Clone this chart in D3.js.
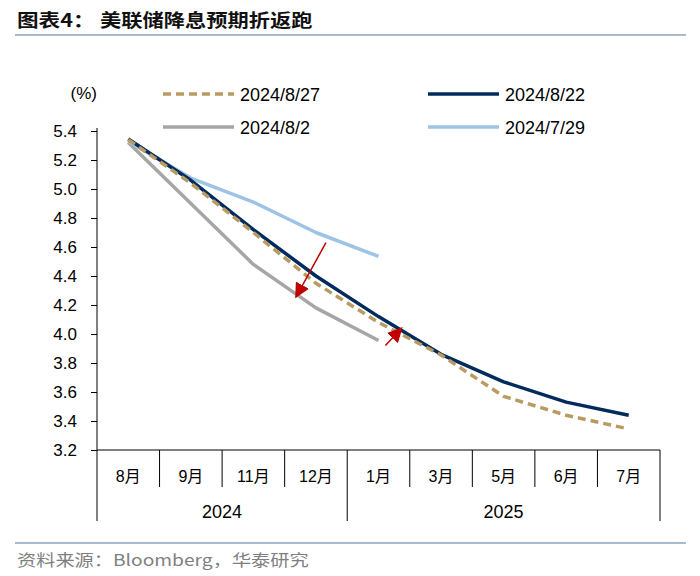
<!DOCTYPE html>
<html><head><meta charset="utf-8">
<script src="https://cdn.jsdelivr.net/npm/d3@7"></script>
<style>body{margin:0;background:#fff;} svg{display:block;font-family:"Liberation Sans",Arial,"Noto Sans CJK SC",sans-serif;}</style>
</head><body><svg id="c" width="700" height="576"></svg>
<script>
const months = ["8月","9月","11月","12月","1月","3月","5月","6月","7月"];
const years = [{label:"2024", from:0, to:4},{label:"2025", from:4, to:9}];
const s0827 = [5.34,5.04,4.70,4.35,4.08,3.855,3.57,3.44,3.345];
const s0822 = [5.345,5.06,4.72,4.40,4.12,3.86,3.67,3.53,3.44];
const s0802 = [5.32,4.90,4.48,4.18,3.955];
const s0729 = [5.33,5.075,4.91,4.70,4.535];
const yTicks = [3.2,3.4,3.6,3.8,4.0,4.2,4.4,4.6,4.8,5.0,5.2,5.4];
const arrows = [{x1:3.16,y1:4.63,x2:2.68,y2:4.255},{x1:4.11,y1:3.92,x2:4.37,y2:4.04}];

const svg = d3.select("#c");
const L=97, R=660, T=131, B=450;
const xi = d3.scaleLinear().domain([0,9]).range([L,R]);
const xc = i => xi(i+0.5);
const y = d3.scaleLinear().domain([3.2,5.4]).range([B,T]);
const stretch = (sel,k) => sel.each(function(){ const w=this.getComputedTextLength(); d3.select(this).attr("textLength",w*k).attr("lengthAdjust","spacingAndGlyphs"); });

// title
svg.append("text").attr("x",17).attr("y",27).attr("font-family","'Noto Sans CJK SC',sans-serif").attr("font-weight","bold").attr("font-size",18).attr("fill","#111").text("图表4：").call(stretch,1.2);
svg.append("text").attr("x",100).attr("y",27).attr("font-family","'Noto Sans CJK SC',sans-serif").attr("font-weight","bold").attr("font-size",18).attr("fill","#111").text("美联储降息预期折返跑").call(stretch,1.18);
svg.append("line").attr("x1",15).attr("x2",686).attr("y1",35).attr("y2",35).attr("stroke","#8BA3BC").attr("stroke-width",1.5);
svg.append("line").attr("x1",15).attr("x2",686).attr("y1",543).attr("y2",543).attr("stroke","#8BA3BC").attr("stroke-width",1.5);
svg.append("text").attr("x",17).attr("y",566).attr("font-family","'Noto Sans CJK SC',sans-serif").attr("font-size",16).attr("fill","#7f7f7f").text("资料来源：Bloomberg，华泰研究").call(stretch,1.2);

// y axis
const ya = d3.axisLeft(y).tickValues(yTicks).tickFormat(d3.format(".1f")).tickSize(6).tickSizeOuter(0);
const yg = svg.append("g").attr("transform",`translate(${L},0)`).call(ya);
yg.select(".domain").attr("stroke","#000").attr("d",`M0,${T-3}V${B}`);
yg.selectAll(".tick line").attr("stroke","#000");
yg.selectAll(".tick text").attr("font-size",17).attr("fill","#000").attr("font-family","'Liberation Sans',Arial,sans-serif").attr("x",-20);
svg.append("text").attr("x",97).attr("y",99).attr("text-anchor","end").attr("font-size",17).text("(%)");

// x table
svg.append("line").attr("x1",L).attr("x2",R).attr("y1",B).attr("y2",B).attr("stroke","#000");
const bounds = d3.range(10);
svg.selectAll(".vb").data(bounds).join("line")
  .attr("x1",d=>xi(d)).attr("x2",d=>xi(d)).attr("y1",B)
  .attr("y2",d=> (d===0||d===4||d===9)?521:487).attr("stroke","#000");
svg.selectAll(".ml").data(months).join("text")
  .attr("x",(d,i)=>xc(i)).attr("y",482).attr("text-anchor","middle").attr("font-size",16)
  .attr("font-family","'Liberation Sans','Noto Sans CJK SC',sans-serif").text(d=>d);
svg.selectAll(".yl").data(years).join("text")
  .attr("x",d=>xi((d.from+d.to)/2)).attr("y",518).attr("text-anchor","middle").attr("font-size",18).text(d=>d.label);

// lines
const line = d3.line().x((d,i)=>xc(i)).y(d=>y(d));
const series = [
  {data:s0802,color:"#A6A6A6",dash:null},
  {data:s0729,color:"#9DC3E6",dash:null},
  {data:s0822,color:"#002B5C",dash:null},
  {data:s0827,color:"#B99B62",dash:"8,5"}
];
series.forEach(s=>{
  svg.append("path").attr("d",line(s.data)).attr("fill","none").attr("stroke",s.color)
    .attr("stroke-width",3.5).attr("stroke-dasharray",s.dash).attr("stroke-linejoin","round");
});

// arrows
svg.append("defs").append("marker").attr("id","ah").attr("viewBox","0 0 10 10").attr("refX",9).attr("refY",5)
  .attr("markerWidth",15).attr("markerHeight",15).attr("markerUnits","userSpaceOnUse").attr("orient","auto")
  .append("path").attr("d","M0,0L10,5L0,10z").attr("fill","#C00000");
arrows.forEach(a=>{
  svg.append("line").attr("x1",xi(a.x1+0.5)).attr("y1",y(a.y1)).attr("x2",xi(a.x2+0.5)).attr("y2",y(a.y2))
    .attr("stroke","#C00000").attr("stroke-width",1.5).attr("marker-end","url(#ah)");
});

// legend
const leg = [
  {label:"2024/8/27",color:"#B99B62",dash:"8,5",x:163,y:94},
  {label:"2024/8/22",color:"#002B5C",dash:null,x:428,y:94},
  {label:"2024/8/2",color:"#A6A6A6",dash:null,x:163,y:127},
  {label:"2024/7/29",color:"#9DC3E6",dash:null,x:428,y:127}
];
leg.forEach(l=>{
  svg.append("line").attr("x1",l.x).attr("x2",l.x+71).attr("y1",l.y).attr("y2",l.y).attr("stroke",l.color)
    .attr("stroke-width",3.5).attr("stroke-dasharray",l.dash);
  svg.append("text").attr("x",l.x+77).attr("y",l.y+6.5).attr("font-size",18).text(l.label);
});
</script></body></html>
